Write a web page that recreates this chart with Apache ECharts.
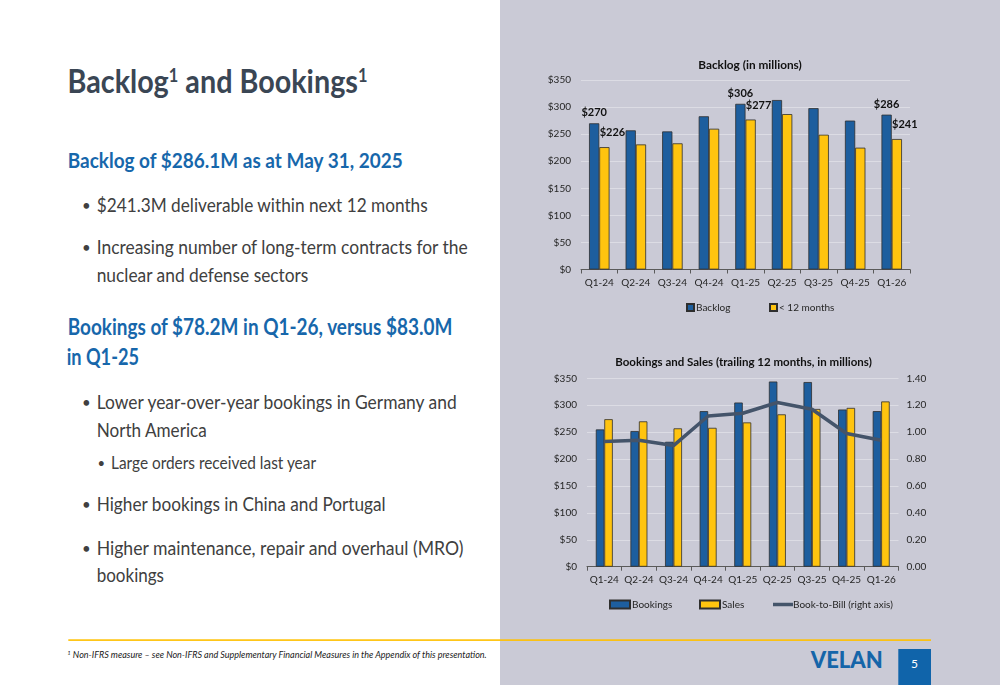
<!DOCTYPE html>
<html>
<head>
<meta charset="utf-8">
<script src="https://cdn.jsdelivr.net/npm/echarts@6/dist/echarts.min.js"></script>
<style>
  html, body { margin:0; padding:0; background:#ffffff; }
  #page { position:relative; width:1000px; height:685px; overflow:hidden; }
  #slide { position:absolute; left:0; top:0; }
  #chart { position:absolute; left:500px; top:0; width:500px; height:685px; }
</style>
</head>
<body>
<div id="page">
<svg id="slide" width="1000" height="685" xmlns="http://www.w3.org/2000/svg" font-family="Lato, 'Open Sans', sans-serif">
  <rect x="500" y="0" width="500" height="685" fill="#CACAD6"/>
  <!-- Title -->
  <text x="67.5" y="92.7" font-size="32.5" font-weight="700" fill="#3A4654" textLength="300" lengthAdjust="spacingAndGlyphs">Backlog<tspan font-size="18.5" dy="-11">1</tspan><tspan dy="11"> and Bookings</tspan><tspan font-size="18.5" dy="-11">1</tspan></text>
  <!-- Heading 1 -->
  <text x="67.7" y="168.3" font-size="21.5" font-weight="700" fill="#1767AB" textLength="335" lengthAdjust="spacingAndGlyphs">Backlog of $286.1M as at May 31, 2025</text>
  <g font-size="19.5" fill="#404040">
    <text x="82" y="210.5" font-size="15">•</text>
    <text x="96.7" y="211.7" textLength="331" lengthAdjust="spacingAndGlyphs">$241.3M deliverable within next 12 months</text>
    <text x="82" y="252.8" font-size="15">•</text>
    <text x="96.7" y="254" textLength="371" lengthAdjust="spacingAndGlyphs">Increasing number of long-term contracts for the</text>
    <text x="96.7" y="281.7" textLength="211.7" lengthAdjust="spacingAndGlyphs">nuclear and defense sectors</text>
  </g>
  <!-- Heading 2 -->
  <text x="67.7" y="335" font-size="22" font-weight="700" fill="#1767AB" textLength="384.7" lengthAdjust="spacingAndGlyphs">Bookings of $78.2M in Q1-26, versus $83.0M</text>
  <text x="66.7" y="365" font-size="22" font-weight="700" fill="#1767AB" textLength="72.3" lengthAdjust="spacingAndGlyphs">in Q1-25</text>
  <g font-size="19.5" fill="#404040">
    <text x="82" y="408.1" font-size="15">•</text>
    <text x="96.7" y="409.3" textLength="360" lengthAdjust="spacingAndGlyphs">Lower year-over-year bookings in Germany and</text>
    <text x="96.7" y="436.7" textLength="110" lengthAdjust="spacingAndGlyphs">North America</text>
    <text x="97.5" y="468.3" font-size="13">•</text>
    <text x="111" y="469.3" font-size="17" textLength="205" lengthAdjust="spacingAndGlyphs">Large orders received last year</text>
    <text x="82" y="509.5" font-size="15">•</text>
    <text x="96.7" y="510.7" textLength="289" lengthAdjust="spacingAndGlyphs">Higher bookings in China and Portugal</text>
    <text x="82" y="553.8" font-size="15">•</text>
    <text x="96.7" y="555" textLength="366.7" lengthAdjust="spacingAndGlyphs">Higher maintenance, repair and overhaul (MRO)</text>
    <text x="96.7" y="581.5" textLength="67.3" lengthAdjust="spacingAndGlyphs">bookings</text>
  </g>
  <!-- Footer -->
  <rect x="68.3" y="639.3" width="862.7" height="1.6" fill="#FFC000"/>
  <text x="67.3" y="658.3" font-size="9.8" font-style="italic" fill="#1a1a1a" textLength="419.4" lengthAdjust="spacingAndGlyphs"><tspan font-size="6.5" dy="-3.5">1</tspan><tspan dy="3.5"> Non-IFRS measure – see Non-IFRS and Supplementary Financial Measures in the Appendix of this presentation.</tspan></text>
  <text x="810.7" y="668.3" font-size="23" font-weight="900" fill="#1565A9" textLength="72" lengthAdjust="spacingAndGlyphs">VELAN</text>
  <rect x="898.3" y="649" width="32.7" height="36" fill="#1064AA"/>
  <text x="914.6" y="668" font-size="12" fill="#ffffff" text-anchor="middle">5</text>
</svg>
<div id="chart"></div>
</div>
<script>
// ---- Data ----
const quarters = ['Q1-24','Q2-24','Q3-24','Q4-24','Q1-25','Q2-25','Q3-25','Q4-25','Q1-26'];
const backlog = [270, 257, 255, 283, 306, 313, 298, 275, 286];
const within12 = [226, 231, 233, 260, 277, 287, 249, 225, 241];
const labeledIdx = [0, 4, 8];
const bookings = [255, 252, 232, 289, 305, 344, 343, 292, 289];
const sales = [274, 270, 257, 258, 268, 283, 293, 295, 307];
const bookToBill = [0.93, 0.94, 0.90, 1.12, 1.14, 1.22, 1.17, 0.99, 0.94];
const leftTicks = [0, 50, 100, 150, 200, 250, 300, 350];
const rightTicks = [0, 0.2, 0.4, 0.6, 0.8, 1.0, 1.2, 1.4];

// ---- Styles ----
const FONT = 'Lato';
const BLUE = '#1D5E9E';
const YELLOW = '#FFC40F';
const BORDER = '#2E2E2E';
const LINE = '#44546A';
const GRID = '#DCDCE4';
const AXIS = '#5A5A5A';
const TXT = '#262626';

function withLabels(arr) {
  return arr.map((v, i) => labeledIdx.includes(i) ? { value: v, label: { show: true } } : v);
}

const chart = echarts.init(document.getElementById('chart'), null, { renderer: 'canvas' });

const xAxisBase = (grid) => ({
  type: 'category', gridIndex: grid, data: quarters,
  axisLine: { lineStyle: { color: AXIS, width: 1 } },
  axisTick: { show: true, length: 4, lineStyle: { color: AXIS } },
  axisLabel: { color: TXT, fontFamily: FONT, fontSize: 10, margin: 8, interval: 0 },
  splitLine: { show: false }
});

const yLeft = (grid) => ({
  type: 'value', gridIndex: grid, min: leftTicks[0], max: leftTicks[leftTicks.length - 1], interval: 50,
  axisLine: { show: false }, axisTick: { show: false },
  axisLabel: { color: TXT, fontFamily: FONT, fontSize: 10, margin: 10, formatter: v => '$' + v },
  splitLine: { lineStyle: { color: GRID, width: 1 } }
});

const legendText = { fontFamily: FONT, fontSize: 10, color: TXT, padding: [0, 0, 0, -3] };

const option = {
  animation: false,
  backgroundColor: 'transparent',
  title: [
    { text: 'Backlog (in millions)', left: 245, top: 54, textAlign: 'center',
      textStyle: { fontFamily: FONT, fontSize: 11.8, fontWeight: 'bold', color: '#111' } },
    { text: 'Bookings and Sales (trailing 12 months, in millions)', left: 238.5, top: 351, textAlign: 'center',
      textStyle: { fontFamily: FONT, fontSize: 11.5, fontWeight: 'bold', color: '#111' } }
  ],
  legend: [
    { data: ['Backlog'], icon: 'rect', left: 181, top: 297.5, itemWidth: 7, itemHeight: 7, itemGap: 0, textStyle: legendText },
    { data: ['< 12 months'], icon: 'rect', left: 264, top: 297.5, itemWidth: 7, itemHeight: 7, itemGap: 0, textStyle: legendText },
    { data: ['Bookings'], icon: 'rect', left: 104, top: 594.5, itemWidth: 20, itemHeight: 8, itemGap: 0, textStyle: legendText },
    { data: ['Sales'], icon: 'rect', left: 194, top: 594.5, itemWidth: 20, itemHeight: 8, itemGap: 0, textStyle: legendText },
    { data: ['Book-to-Bill (right axis)'], icon: 'rect', left: 268, top: 594.5, itemWidth: 20, itemHeight: 3.5, itemGap: 0,
      itemStyle: { color: LINE, borderWidth: 0 }, textStyle: { fontFamily: FONT, fontSize: 10, color: TXT, padding: [0, 0, 0, -5] } }
  ],
  grid: [
    { left: 81, top: 80, width: 329, height: 189.5 },
    { left: 87, top: 378.3, width: 311.5, height: 188.4 }
  ],
  xAxis: [xAxisBase(0), xAxisBase(1)],
  yAxis: [
    yLeft(0),
    yLeft(1),
    { type: 'value', gridIndex: 1, position: 'right', min: rightTicks[0], max: rightTicks[rightTicks.length - 1], interval: 0.2,
      axisLine: { show: false }, axisTick: { show: false }, splitLine: { show: false },
      axisLabel: { color: TXT, fontFamily: FONT, fontSize: 10, margin: 8, formatter: v => v.toFixed(2) } }
  ],
  series: [
    { name: 'Backlog', type: 'bar', xAxisIndex: 0, yAxisIndex: 0, data: withLabels(backlog),
      barGap: '0%', barCategoryGap: '44%',
      itemStyle: { color: BLUE, borderColor: BORDER, borderWidth: 0.8 },
      label: { show: false, position: 'top', distance: 5, offset: [0, 0], formatter: p => '$' + p.value,
        fontFamily: FONT, fontSize: 11, fontWeight: 'bold', color: '#111' } },
    { name: '< 12 months', type: 'bar', xAxisIndex: 0, yAxisIndex: 0, data: withLabels(within12),
      barGap: '0%', barCategoryGap: '44%',
      itemStyle: { color: YELLOW, borderColor: BORDER, borderWidth: 0.8 },
      label: { show: false, position: 'top', distance: 9, offset: [8, 0], formatter: p => '$' + p.value,
        fontFamily: FONT, fontSize: 11, fontWeight: 'bold', color: '#111' } },
    { name: 'Bookings', type: 'bar', xAxisIndex: 1, yAxisIndex: 1, data: bookings,
      barGap: '0%', barCategoryGap: '51%',
      itemStyle: { color: BLUE, borderColor: BORDER, borderWidth: 0.8 } },
    { name: 'Sales', type: 'bar', xAxisIndex: 1, yAxisIndex: 1, data: sales,
      barGap: '0%', barCategoryGap: '51%',
      itemStyle: { color: YELLOW, borderColor: BORDER, borderWidth: 0.8 } },
    { name: 'Book-to-Bill (right axis)', type: 'line', xAxisIndex: 1, yAxisIndex: 2, data: bookToBill,
      symbol: 'none', showSymbol: false,
      lineStyle: { color: LINE, width: 3.5 }, itemStyle: { color: LINE } }
  ]
};
chart.setOption(option);
</script>
</body>
</html>
